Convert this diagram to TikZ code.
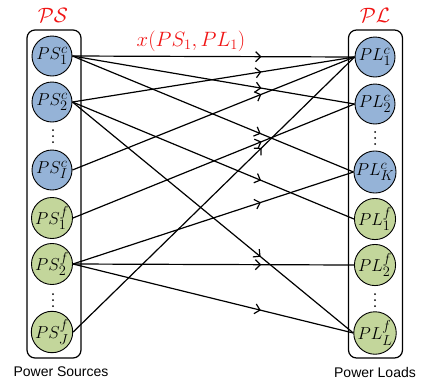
\documentclass[tikz,border=0pt]{standalone}
\usepackage{fontspec}
\newfontfamily\captionfont{Liberation Sans}
\usetikzlibrary{arrows.meta,decorations.markings}

\definecolor{cfill}{RGB}{149,179,215}
\definecolor{ffill}{RGB}{195,214,155}
\definecolor{tagred}{RGB}{240,20,20}

\begin{document}
\begin{tikzpicture}[x=1pt,y=-1pt,
  unit/.style={circle,draw=black,line width=0.9pt,minimum size=40pt,inner sep=0pt,
    font=\fontsize{19}{21}\selectfont},
  cunit/.style={unit,fill=cfill},
  funit/.style={unit,fill=ffill},
  groupbox/.style={draw=black,line width=1.2pt,rounded corners=8pt,inner sep=0pt,
    minimum width=54pt,minimum height=328pt},
  tag/.style={text=tagred,font=\fontsize{19.5}{22}\selectfont},
  caption/.style={font=\captionfont\fontsize{14}{16}\selectfont},
  flow/.style={line width=1.2pt,postaction={decorate},
    decoration={markings,mark=at position 0.67 with
      {\arrow{Straight Barb[length=5pt,width=10pt]}}}},
  vdot/.style={circle,fill=black,inner sep=0pt,minimum size=2pt}
]
\useasboundingbox (0,0) rectangle (422,381);

% enclosing groups
\node[groupbox] (srcgroup) at (54,194) {};
\node[groupbox] (loadgroup) at (375.5,194) {};

% set names and captions
\node[tag] (pstag) at (53,15) {$\mathcal{PS}$};
\node[tag] (pltag) at (375,15) {$\mathcal{PL}$};
\node[tag] (xtag) at (191,41) {$x(PS_1,PL_1)$};
\node[caption] (srccap) at (61,372) {Power Sources};
\node[caption] (loadcap) at (375,372) {Power Loads};

% power sources
\node[cunit] (s1c) at (52,56)  {$PS_1^c$};
\node[cunit] (s2c) at (52,102) {$PS_2^c$};
\node[cunit] (sic) at (52,170) {$PS_I^c$};
\node[funit] (s1f) at (52,218) {$PS_1^f$};
\node[funit] (s2f) at (52,264) {$PS_2^f$};
\node[funit] (sjf) at (52,332) {$PS_J^f$};

% power loads
\node[cunit] (l1c) at (375,57)  {$PL_1^c$};
\node[cunit] (l2c) at (375,104) {$PL_2^c$};
\node[cunit] (lkc) at (375,172) {$PL_K^c$};
\node[funit] (l1f) at (375,219) {$PL_1^f$};
\node[funit] (l2f) at (375,265) {$PL_2^f$};
\node[funit] (llf) at (375,333) {$PL_L^f$};

% elided members
\foreach \x/\y in {53/136, 53/300, 375/138, 375/300} {
  \foreach \d in {-6,0,6} \node[vdot] at (\x,\y+\d) {};
}

% supply links
\draw[flow] (s1c.east) -- (l1c.west);
\draw[flow] (s1c.east) -- (l2c.west);
\draw[flow] (s1c.east) -- (lkc.west);
\draw[flow] (s2c.east) -- (l1c.west);
\draw[flow] (s2c.east) -- (l1f.west);
\draw[flow] (s2c.east) -- (llf.west);
\draw[flow] (sic.east) -- (l1c.west);
\draw[flow] (s1f.east) -- (l2c.west);
\draw[flow] (s2f.east) -- (lkc.west);
\draw[flow] (s2f.east) -- (l2f.west);
\draw[flow] (s2f.east) -- (llf.west);
\draw[flow] (sjf.east) -- (l1c.west);
\end{tikzpicture}
\end{document}
